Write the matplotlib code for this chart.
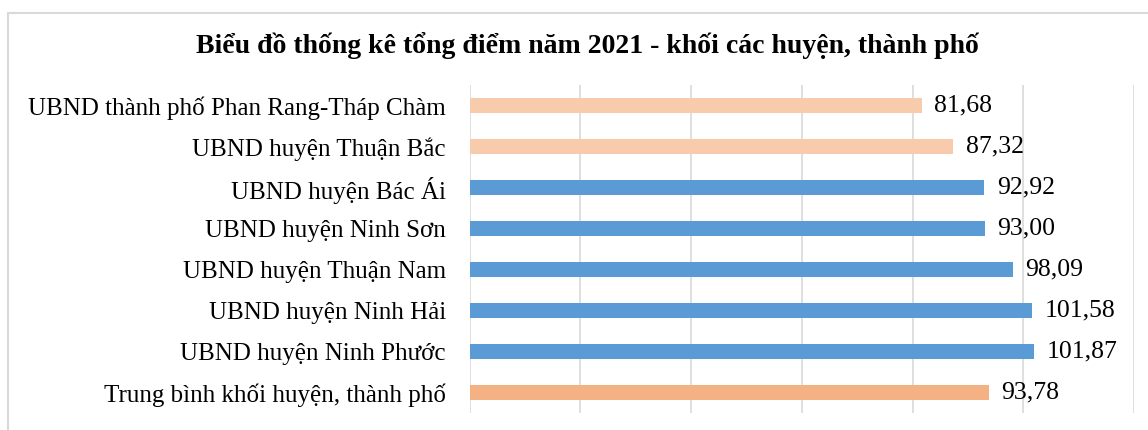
import matplotlib.pyplot as plt
from matplotlib.patches import Rectangle

labels = [
    "UBND thành phố Phan Rang-Tháp Chàm",
    "UBND huyện Thuận Bắc",
    "UBND huyện Bác Ái",
    "UBND huyện Ninh Sơn",
    "UBND huyện Thuận Nam",
    "UBND huyện Ninh Hải",
    "UBND huyện Ninh Phước",
    "Trung bình khối huyện, thành phố",
]
values = [81.68, 87.32, 92.92, 93.00, 98.09, 101.58, 101.87, 93.78]
colors = ["#F8CBAD", "#F8CBAD", "#5B9BD5", "#5B9BD5", "#5B9BD5",
          "#5B9BD5", "#5B9BD5", "#F4B183"]

plt.rcParams['font.family'] = ['Liberation Serif', 'DejaVu Serif']

fig = plt.figure(figsize=(11.48, 4.3), dpi=100)
ax = fig.add_axes([0.409, 0.040, 0.579, 0.762])

y = range(len(values))
ax.barh(y, values, height=0.36, color=colors, zorder=2)
ax.set_ylim(len(values) - 0.5, -0.5)
ax.set_xlim(0, 120)
ax.set_xticks(range(0, 121, 20))
ax.set_xticklabels([])
ax.set_yticks(list(y))
ax.set_yticklabels(labels, fontsize=18)
ax.tick_params(axis='both', length=0)
ax.tick_params(axis='y', pad=17)
ax.grid(axis='x', color='#D9D9D9', linewidth=1.2, zorder=0)
for s in ax.spines.values():
    s.set_visible(False)

for i, v in enumerate(values):
    ax.annotate(f"{v:.2f}".replace('.', ','), (v, i), xytext=(9, 0),
                textcoords='offset points', va='center', ha='left',
                fontsize=18.5)

fig.text(0.512, 0.895, "Biểu đồ thống kê tổng điểm năm 2021 - khối các huyện, thành phố",
         ha='center', va='center', fontsize=20, fontweight='bold')

# outer chart frame
fig.patches.append(Rectangle((8 / 1148, -0.05), 1.1, 1 - 13 / 430 + 0.05,
                             transform=fig.transFigure, fill=False,
                             edgecolor='#D9D9D9', linewidth=1.5))

fig.savefig("out.png", dpi=100)
